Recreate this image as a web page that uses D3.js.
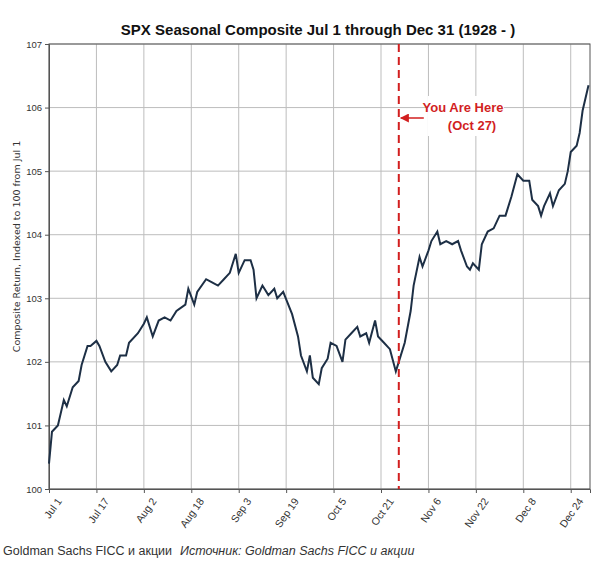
<!DOCTYPE html>
<html><head><meta charset="utf-8">
<script src="https://cdn.jsdelivr.net/npm/d3@7"></script>
<style>body{margin:0;background:#fff}</style>
</head><body>
<svg id="chart" width="600" height="567"></svg>
<script>
// day offsets from Jul 1 and composite index values
const days = [0,1,3,5,6,8,10,11,13,14,16,17,19,21,23,24,26,27,30,32,33,35,37,39,41,43,46,47,49,50,53,55,57,59,61,63,64,66,68,69,70,72,74,76,77,79,82,84,85,87,88,89,91,92,94,95,97,99,100,102,104,105,107,108,110,111,113,115,117,118,120,122,123,125,126,128,129,131,132,134,136,138,139,141,142,143,145,146,148,150,152,154,156,158,160,162,163,165,166,167,169,170,172,174,175,176,178,179,180,182];
const values = [100.4,100.9,101.0,101.4,101.3,101.6,101.7,101.95,102.25,102.25,102.33,102.25,102.0,101.85,101.95,102.1,102.1,102.3,102.45,102.6,102.7,102.4,102.65,102.7,102.65,102.8,102.9,103.15,102.9,103.1,103.3,103.25,103.2,103.3,103.4,103.7,103.4,103.6,103.6,103.45,103.0,103.2,103.05,103.15,103.0,103.1,102.75,102.4,102.1,101.85,102.1,101.75,101.65,101.9,102.05,102.3,102.25,102.0,102.35,102.45,102.55,102.4,102.45,102.3,102.65,102.4,102.3,102.2,101.85,102.0,102.3,102.8,103.2,103.65,103.5,103.75,103.9,104.05,103.85,103.9,103.85,103.9,103.75,103.5,103.45,103.55,103.45,103.85,104.05,104.1,104.3,104.3,104.6,104.95,104.85,104.85,104.55,104.45,104.3,104.45,104.65,104.45,104.7,104.8,105.0,105.3,105.4,105.6,105.95,106.35];
const tickDays = [0,16,32,48,64,80,96,112,128,144,160,176];
const tickLabels = ["Jul 1","Jul 17","Aug 2","Aug 18","Sep 3","Sep 19","Oct 5","Oct 21","Nov 6","Nov 22","Dec 8","Dec 24"];
const yTicks = [100,101,102,103,104,105,106,107];
const markerDay = 118;

const svg = d3.select("#chart");
const m = {left: 49, right: 590, top: 44, bottom: 489};
const x = d3.scaleLinear().domain([0, 182.5]).range([m.left, m.right]);
const y = d3.scaleLinear().domain([100, 107]).range([m.bottom, m.top]);
const font = "'Liberation Sans',Arial,sans-serif";

// grid
svg.append("g").selectAll("line").data(tickDays).join("line")
	.attr("x1", d => x(d)).attr("x2", d => x(d)).attr("y1", m.top).attr("y2", m.bottom)
	.style("stroke", "#bdbdbd").style("stroke-width", 1);
svg.append("g").selectAll("line").data(yTicks).join("line")
	.attr("x1", m.left).attr("x2", m.right).attr("y1", d => y(d)).attr("y2", d => y(d))
	.style("stroke", "#bdbdbd").style("stroke-width", 1);

// axes
const xAxis = svg.append("g").attr("transform", `translate(0,${m.bottom})`)
	.call(d3.axisBottom(x).tickValues(tickDays).tickSize(4).tickFormat((d, i) => tickLabels[i]));
xAxis.selectAll("text").attr("font-family", font).attr("font-size", 10.5).attr("fill", "#333")
	.attr("text-anchor", "end").attr("transform", "translate(4,6) rotate(-55)").attr("dy", "0.35em");
const yAxis = svg.append("g").attr("transform", `translate(${m.left},0)`)
	.call(d3.axisLeft(y).tickValues(yTicks).tickSize(4).tickFormat(d3.format("d")));
yAxis.selectAll("text").attr("font-family", font).attr("font-size", 9.5).attr("fill", "#333");
xAxis.selectAll(".domain, .tick line").attr("stroke", "#555");
yAxis.selectAll(".domain, .tick line").attr("stroke", "#555");

svg.append("rect").attr("x", m.left).attr("y", m.top).attr("width", m.right - m.left).attr("height", m.bottom - m.top)
	.attr("fill", "none").attr("stroke", "#555");

// line
svg.append("path").datum(days.map((d, i) => [d, values[i]]))
	.attr("fill", "none").attr("stroke", "#1d2f45").attr("stroke-width", 2)
	.attr("d", d3.line().x(d => x(d[0])).y(d => y(d[1])));

// marker
svg.append("line").attr("x1", x(markerDay)).attr("x2", x(markerDay)).attr("y1", m.top).attr("y2", m.bottom)
	.attr("stroke", "#d21f1f").attr("stroke-width", 2).attr("stroke-dasharray", "8,5");
svg.append("defs").append("marker").attr("id", "ah").attr("viewBox", "0 0 10 10").attr("refX", 9).attr("refY", 5)
	.attr("markerWidth", 6).attr("markerHeight", 6).attr("orient", "auto")
	.append("path").attr("d", "M0,0L10,5L0,10z").attr("fill", "#d21f1f");
svg.append("line").attr("x1", x(markerDay) + 25).attr("x2", x(markerDay) + 2).attr("y1", 118).attr("y2", 118)
	.attr("stroke", "#d21f1f").attr("stroke-width", 1.5).attr("marker-end", "url(#ah)");
svg.append("rect").attr("x", 428).attr("y", 96).attr("width", 76).attr("height", 40).attr("fill", "#fff");
svg.append("text").attr("x", 463).attr("y", 112).attr("text-anchor", "middle").attr("font-family", font)
	.attr("font-weight", "bold").attr("font-size", 13).attr("fill", "#d21f1f").text("You Are Here");
svg.append("text").attr("x", 472).attr("y", 130).attr("text-anchor", "middle").attr("font-family", font)
	.attr("font-weight", "bold").attr("font-size", 13).attr("fill", "#d21f1f").text("(Oct 27)");

// titles
svg.append("text").attr("x", 318).attr("y", 35).attr("text-anchor", "middle").attr("font-family", font)
	.attr("font-weight", "bold").attr("font-size", 15).attr("fill", "#111")
	.text("SPX Seasonal Composite Jul 1 through Dec 31 (1928 - )");
svg.append("text").attr("transform", `translate(20,${(m.top + m.bottom) / 2 - 20}) rotate(-90)`)
	.attr("text-anchor", "middle").attr("font-family", "'DejaVu Sans',sans-serif").attr("font-size", 9.5)
	.attr("fill", "#333").text("Composite Return, Indexed to 100 from Jul 1");
const foot = svg.append("text").attr("x", 3).attr("y", 555).attr("font-family", font)
	.attr("font-size", 12.5).attr("fill", "#333");
foot.append("tspan").text("Goldman Sachs FICC и акции");
foot.append("tspan").attr("dx", 8).attr("font-style", "italic").text("Источник: Goldman Sachs FICC и акции");
</script>
</body></html>
